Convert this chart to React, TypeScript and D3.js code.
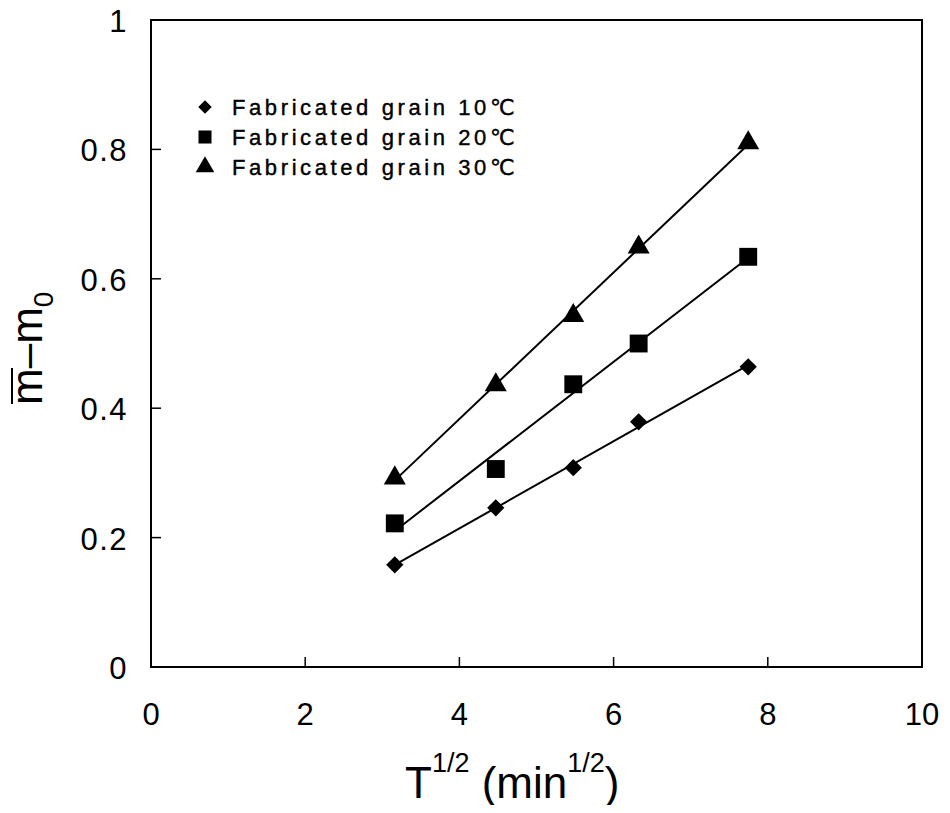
import React from "react";
import * as d3 from "d3";

// Square root of immersion time (min^1/2): 10, 20, 30, 40, 60 min
const sqrtTime = [3.162, 4.472, 5.477, 6.325, 7.746];

// Moisture uptake (m̄ − m0) for each temperature
const grain10 = [0.158, 0.246, 0.308, 0.379, 0.464];
const grain20 = [0.222, 0.306, 0.437, 0.5, 0.634];
const grain30 = [0.292, 0.436, 0.543, 0.649, 0.81];

const seriesNames = [
  "Fabricated grain 10℃",
  "Fabricated grain 20℃",
  "Fabricated grain 30℃",
];

const xTicks = [0, 2, 4, 6, 8, 10];
const yTicks = [0, 0.2, 0.4, 0.6, 0.8, 1];

const W = 950;
const H = 813;
const FONT = "'Liberation Sans', Arial, 'DejaVu Sans', sans-serif";

const x = d3.scaleLinear().domain([0, 10]).range([151, 922]);
const y = d3.scaleLinear().domain([0, 1]).range([667, 20]);

// Least-squares straight line through a series
function fit(xs: number[], ys: number[]) {
  const mx = d3.mean(xs)!;
  const my = d3.mean(ys)!;
  let sxy = 0;
  let sxx = 0;
  xs.forEach((v, i) => {
    sxy += (v - mx) * (ys[i] - my);
    sxx += (v - mx) * (v - mx);
  });
  const slope = sxy / sxx;
  const icpt = my - slope * mx;
  const x0 = d3.min(xs)!;
  const x1 = d3.max(xs)!;
  return [
    [x0, icpt + slope * x0],
    [x1, icpt + slope * x1],
  ] as [number, number][];
}

const symbols = [d3.symbolDiamond2, d3.symbolSquare, d3.symbolTriangle];
const plotSizes = [190, 320, 210];
const legendSizes = [115, 170, 150];
const series = [grain10, grain20, grain30];

export default function App() {
  const line = d3
    .line<[number, number]>()
    .x((d) => x(d[0]))
    .y((d) => y(d[1]));

  return (
    <svg width={W} height={H} style={{ display: "block", background: "#fff", margin: "-8px" }}>
      {/* frame */}
      <rect x={x(0)} y={y(1)} width={x(10) - x(0)} height={y(0) - y(1)} fill="none" stroke="#000" strokeWidth={2} />

      {/* inward ticks */}
      {yTicks.slice(1, -1).map((t) => (
        <line key={"yt" + t} x1={x(0)} x2={x(0) + 10} y1={y(t)} y2={y(t)} stroke="#000" strokeWidth={1.5} />
      ))}
      {xTicks.slice(1, -1).map((t) => (
        <line key={"xt" + t} x1={x(t)} x2={x(t)} y1={y(0)} y2={y(0) - 10} stroke="#000" strokeWidth={1.5} />
      ))}

      {/* tick labels */}
      <g fontFamily={FONT} fontSize={31} fill="#000">
        {yTicks.map((t) => (
          <text key={"yl" + t} x={128} y={y(t) + 12} textAnchor="end" letterSpacing={1.5}>
            {t === 0 || t === 1 ? String(t) : t.toFixed(1)}
          </text>
        ))}
        {xTicks.map((t) => (
          <text key={"xl" + t} x={x(t)} y={725} textAnchor="middle">
            {String(t)}
          </text>
        ))}
      </g>

      {/* x axis title */}
      <text x={405} y={798} fontFamily={FONT} fontSize={44} fill="#000">
        <tspan>T</tspan>
        <tspan fontSize={27} dy={-26}>1/2</tspan>
        <tspan dy={26}> (min</tspan>
        <tspan fontSize={27} dy={-26}>1/2</tspan>
        <tspan dy={26}>)</tspan>
      </text>

      {/* y axis title */}
      <g transform="translate(42,405) rotate(-90)">
        <text x={0} y={0} fontFamily={FONT} fontSize={44} fill="#000">
          <tspan>m</tspan>
          <tspan>–</tspan>
          <tspan>m</tspan>
          <tspan fontSize={28} dy={11}>0</tspan>
        </text>
        <line x1={1} x2={37} y1={-30} y2={-30} stroke="#000" strokeWidth={2} />
      </g>

      {/* fitted lines */}
      {series.map((s, i) => (
        <path key={"fit" + i} d={line(fit(sqrtTime, s))!} fill="none" stroke="#000" strokeWidth={2} />
      ))}

      {/* data markers */}
      {series.map((s, i) =>
        s.map((v, j) => (
          <path
            key={`m${i}-${j}`}
            d={d3.symbol(symbols[i], plotSizes[i])()!}
            transform={`translate(${x(sqrtTime[j])},${y(v)})`}
            fill="#000"
          />
        ))
      )}

      {/* legend */}
      {seriesNames.map((name, i) => (
        <g key={"lg" + i} transform={`translate(205,${107 + i * 30})`}>
          <path d={d3.symbol(symbols[i], legendSizes[i])()!} fill="#000" />
          <text
            x={27}
            y={8}
            fontFamily={FONT}
            fontSize={22}
            letterSpacing={3.6}
            fill="#000"
            stroke="#000"
            strokeWidth={0.4}
          >
            {name}
          </text>
        </g>
      ))}
    </svg>
  );
}
